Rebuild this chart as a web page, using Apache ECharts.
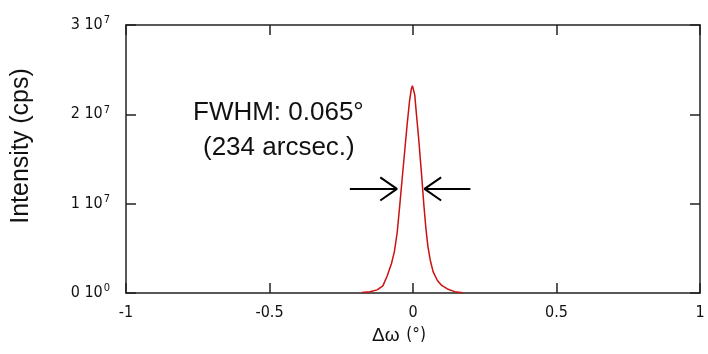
<!DOCTYPE html>
<html>
<head>
<meta charset="utf-8">
<script src="https://cdn.jsdelivr.net/npm/echarts@6/dist/echarts.min.js"></script>
<style>
  html, body { margin: 0; padding: 0; background: #fff; }
  #main { width: 708px; height: 354px; }
</style>
</head>
<body>
<div id="main"></div>
<script>
// rocking curve
const omega = [-0.178, -0.15, -0.125, -0.105, -0.09, -0.075, -0.065, -0.055, -0.047, -0.04,
  -0.03, -0.02, -0.012, -0.006, -0.002, 0.002, 0.006, 0.012, 0.02, 0.03,
  0.038, 0.045, 0.052, 0.06, 0.07, 0.085, 0.1, 0.12, 0.145, 0.174];
const intensity = [0.005e7, 0.015e7, 0.035e7, 0.08e7, 0.19e7, 0.33e7, 0.46e7, 0.68e7, 0.95e7, 1.2e7,
  1.55e7, 1.9e7, 2.15e7, 2.28e7, 2.32e7, 2.31e7, 2.22e7, 2.0e7, 1.72e7, 1.32e7,
  0.98e7, 0.72e7, 0.52e7, 0.37e7, 0.24e7, 0.14e7, 0.085e7, 0.045e7, 0.015e7, 0.004e7];

const xTicks = [-1, -0.5, 0, 0.5, 1];
const yTicks = [0, 1e7, 2e7, 3e7];

// FWHM arrows (annotation)
const arrowY = 1.165e7;
const leftArrow = [[-0.22, arrowY], [-0.056, arrowY]];
const leftHead = [[-0.114, arrowY + 0.13e7], [-0.056, arrowY], [-0.114, arrowY - 0.13e7]];
const rightArrow = [[0.2, arrowY], [0.04, arrowY]];
const rightHead = [[0.098, arrowY + 0.13e7], [0.04, arrowY], [0.098, arrowY - 0.13e7]];

const narrow = "'Liberation Sans Narrow', 'DejaVu Sans Condensed', sans-serif";
const axisLine = { onZero: false, lineStyle: { color: '#222', width: 1.5 } };
const inTick = { inside: true, length: 10, lineStyle: { color: '#222', width: 1.5 } };

const chart = echarts.init(document.getElementById('main'), null, { renderer: 'canvas' });

const arrowSeries = function (pts) {
  return {
    type: 'line', data: pts, symbol: 'none', silent: true,
    lineStyle: { color: '#000', width: 2 }, z: 4
  };
};

chart.setOption({
  backgroundColor: '#fff',
  animation: false,
  grid: { left: 126, right: 8, top: 25, bottom: 61 },
  xAxis: [{
    type: 'value', min: -1, max: 1, interval: 0.5,
    axisLine: axisLine, axisTick: inTick, splitLine: { show: false },
    axisLabel: {
      margin: 12, fontSize: 16, color: '#111', fontFamily: narrow,
      showMinLabel: true, showMaxLabel: true,
      formatter: function (v) { return xTicks.indexOf(v) >= 0 ? String(v) : ''; }
    },
    name: '{g|Δω}  {n|(°)}', nameLocation: 'middle', nameGap: 22,
    nameTextStyle: {
      padding: [0, 28, 0, 0],
      rich: {
        g: { fontSize: 19, color: '#111', fontFamily: 'Liberation Sans, Arial, sans-serif' },
        n: { fontSize: 17, color: '#111', fontFamily: narrow }
      }
    }
  }, {
    type: 'value', position: 'top', min: -1, max: 1, interval: 0.5,
    axisLine: axisLine, axisTick: inTick, axisLabel: { show: false }, splitLine: { show: false }
  }],
  yAxis: [{
    type: 'value', min: 0, max: 3e7, interval: 1e7,
    axisLine: axisLine, axisTick: inTick, splitLine: { show: false },
    axisLabel: {
      margin: 16, color: '#111',
      formatter: function (v) {
        const i = yTicks.indexOf(v);
        const exp = v === 0 ? 0 : 7;
        return '{b|' + i + ' 10}{s|' + exp + '}';
      },
      rich: {
        b: { fontSize: 16, fontFamily: narrow, color: '#111', lineHeight: 18 },
        s: { fontSize: 11, fontFamily: narrow, color: '#111', lineHeight: 18, padding: [0, 0, 9, 1] }
      }
    },
    name: 'Intensity (cps)', nameLocation: 'middle', nameGap: 92,
    nameTextStyle: {
      fontSize: 25, color: '#111', fontFamily: 'Liberation Sans, Arial, sans-serif',
      padding: [0, 0, 0, 26]
    }
  }, {
    type: 'value', position: 'right', min: 0, max: 3e7, interval: 1e7,
    axisLine: axisLine, axisTick: inTick, axisLabel: { show: false }, splitLine: { show: false }
  }],
  series: [{
    type: 'line',
    data: omega.map(function (x, i) { return [x, intensity[i]]; }),
    symbol: 'none',
    lineStyle: { color: '#cc1111', width: 1.5 },
    z: 5
  },
    arrowSeries(leftArrow), arrowSeries(leftHead),
    arrowSeries(rightArrow), arrowSeries(rightHead)
  ],
  graphic: [{
    type: 'text', left: 193, top: 100,
    style: { text: 'FWHM: 0.065°', fontSize: 26, fill: '#111', fontFamily: 'Liberation Sans, Arial, sans-serif' }
  }, {
    type: 'text', left: 203, top: 135,
    style: { text: '(234 arcsec.)', fontSize: 26, fill: '#111', fontFamily: 'Liberation Sans, Arial, sans-serif' }
  }]
});
</script>
</body>
</html>
